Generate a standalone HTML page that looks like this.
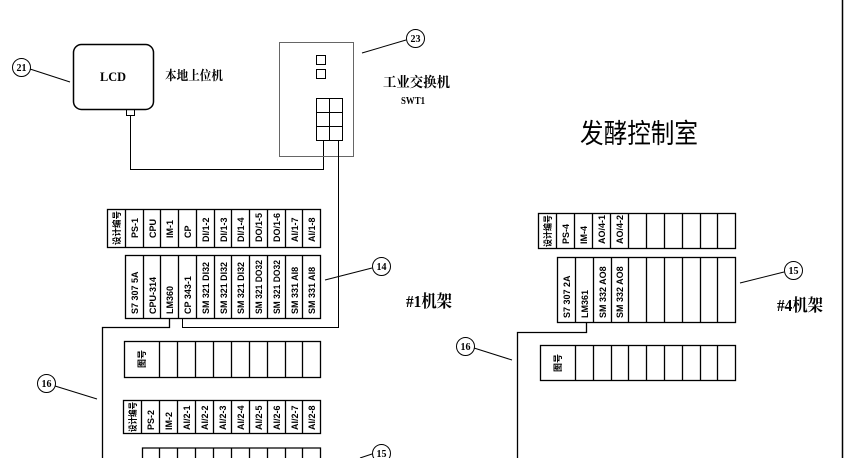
<!DOCTYPE html>
<html><head><meta charset="utf-8"><style>
html,body{margin:0;padding:0;background:#fff}
svg{display:block}
text{font-family:"Liberation Sans","Noto Sans CJK SC",sans-serif;fill:#000}
.s{font-family:"Liberation Serif","Noto Serif CJK SC",serif}
.v{font-size:9px;font-weight:bold}
</style></head><body>
<svg width="844" height="458" viewBox="0 0 844 458" xmlns="http://www.w3.org/2000/svg">
<g fill="none" stroke="#000">
<line x1="842.5" y1="0" x2="842.5" y2="458" stroke-width="1.5"/>
<rect x="73.5" y="44.5" width="80" height="65" rx="8" stroke-width="1.5"/>
<rect x="126.5" y="109.5" width="8" height="6"/>
<polyline points="130.5,115.5 130.5,169.5 323.5,169.5 323.5,140"/>
<rect x="279.5" y="42.5" width="74" height="114" stroke="#666"/>
<rect x="316.5" y="55.5" width="9" height="9"/>
<rect x="316.5" y="69.5" width="9" height="9"/>
<rect x="316.5" y="98.5" width="26" height="42"/>
<line x1="329.5" y1="98.5" x2="329.5" y2="140.5"/>
<line x1="316.5" y1="112.5" x2="342.5" y2="112.5"/>
<line x1="316.5" y1="126.5" x2="342.5" y2="126.5"/>
<polyline points="338.5,140.5 338.5,327.5 182.5,327.5 182.5,318"/>
<polyline points="169.5,318 169.5,327.5 102.5,327.5 102.5,458" stroke-width="1.3"/>
<polyline points="586.5,322 586.5,332.5 517.5,332.5 517.5,458" stroke-width="1.3"/>
<line x1="30" y1="69" x2="70" y2="82"/>
<line x1="406" y1="40" x2="362" y2="53"/>
<line x1="372" y1="268" x2="325" y2="280"/>
<line x1="784" y1="272" x2="740" y2="283"/>
<line x1="55" y1="386" x2="97" y2="399"/>
<line x1="474" y1="348" x2="512" y2="360"/>
<line x1="372" y1="454" x2="360" y2="458"/>
<circle cx="21.5" cy="67.5" r="9"/>
<circle cx="415.5" cy="38.5" r="9"/>
<circle cx="381.5" cy="266.5" r="9"/>
<circle cx="793.5" cy="270.5" r="9"/>
<circle cx="46.5" cy="383.5" r="9"/>
<circle cx="465.5" cy="346.5" r="9"/>
<circle cx="381.5" cy="453.5" r="9"/>
</g>
<g font-size="10" font-weight="bold" text-anchor="middle" class="s">
<text class="s" x="21.5" y="71">21</text><text class="s" x="415.5" y="42">23</text>
<text class="s" x="381.5" y="270">14</text><text class="s" x="793.5" y="274">15</text>
<text class="s" x="46.5" y="387">16</text><text class="s" x="465.5" y="350">16</text>
<text class="s" x="381.5" y="457">15</text>
</g>
<text class="s" x="113" y="81" font-size="13" font-weight="bold" text-anchor="middle" textLength="26" lengthAdjust="spacingAndGlyphs">LCD</text>
<text class="s" x="165" y="80" font-size="13" font-weight="bold" textLength="58" lengthAdjust="spacingAndGlyphs">本地上位机</text>
<text class="s" x="383" y="87" font-size="14" font-weight="bold" textLength="67" lengthAdjust="spacingAndGlyphs">工业交换机</text>
<text class="s" x="401" y="104" font-size="11" font-weight="bold" textLength="24" lengthAdjust="spacingAndGlyphs">SWT1</text>
<text x="580" y="143" font-size="27" textLength="118" lengthAdjust="spacingAndGlyphs">发酵控制室</text>
<text class="s" x="406" y="307" font-size="17" font-weight="bold" textLength="46" lengthAdjust="spacingAndGlyphs">#1机架</text>
<text class="s" x="777" y="311" font-size="17" font-weight="bold" textLength="46" lengthAdjust="spacingAndGlyphs">#4机架</text>
<g fill="none" stroke="#000" stroke-width="1.3">
<rect x="107.5" y="209.5" width="213" height="38"/>
<path d="M125.5 209.5v38M143.5 209.5v38M160.5 209.5v38M178.5 209.5v38M196.5 209.5v38M214.5 209.5v38M231.5 209.5v38M249.5 209.5v38M267.5 209.5v38M285.5 209.5v38M302.5 209.5v38"/>
<rect x="125.5" y="255.5" width="195" height="63"/>
<path d="M143.5 255.5v63M160.5 255.5v63M178.5 255.5v63M196.5 255.5v63M214.5 255.5v63M231.5 255.5v63M249.5 255.5v63M267.5 255.5v63M285.5 255.5v63M302.5 255.5v63"/>
<rect x="124.5" y="341.5" width="196" height="36"/>
<path d="M159.5 341.5v36M177.5 341.5v36M195.5 341.5v36M213.5 341.5v36M231.5 341.5v36M249.5 341.5v36M267.5 341.5v36M285.5 341.5v36M302.5 341.5v36"/>
<rect x="123.5" y="400.5" width="197" height="33"/>
<path d="M141.5 400.5v33M159.5 400.5v33M177.5 400.5v33M195.5 400.5v33M213.5 400.5v33M231.5 400.5v33M249.5 400.5v33M267.5 400.5v33M285.5 400.5v33M302.5 400.5v33"/>
<path d="M142.5 458v-10h178v10M159.5 448v10M177.5 448v10M195.5 448v10M213.5 448v10M231.5 448v10M249.5 448v10M267.5 448v10M285.5 448v10M302.5 448v10"/>
<rect x="538.5" y="213.5" width="197" height="35"/>
<path d="M556.5 213.5v35M574.5 213.5v35M592.5 213.5v35M610.5 213.5v35M628.5 213.5v35M646.5 213.5v35M664.5 213.5v35M682.5 213.5v35M700.5 213.5v35M717.5 213.5v35"/>
<rect x="557.5" y="257.5" width="178" height="65"/>
<path d="M575.5 257.5v65M593.5 257.5v65M611.5 257.5v65M628.5 257.5v65M646.5 257.5v65M664.5 257.5v65M682.5 257.5v65M700.5 257.5v65M717.5 257.5v65"/>
<rect x="540.5" y="345.5" width="195" height="35"/>
<path d="M575.5 345.5v35M593.5 345.5v35M611.5 345.5v35M628.5 345.5v35M646.5 345.5v35M664.5 345.5v35M682.5 345.5v35M700.5 345.5v35M717.5 345.5v35"/>
</g>
<g class="v">
<text transform="translate(120,245) rotate(-90)" textLength="34" lengthAdjust="spacingAndGlyphs">设计编号</text>
<text transform="translate(138,238) rotate(-90)">PS-1</text>
<text transform="translate(156,238) rotate(-90)">CPU</text>
<text transform="translate(173,238) rotate(-90)">IM-1</text>
<text transform="translate(191,238) rotate(-90)">CP</text>
<text transform="translate(209,242) rotate(-90)">DI/1-2</text>
<text transform="translate(227,242) rotate(-90)">DI/1-3</text>
<text transform="translate(244,242) rotate(-90)">DI/1-4</text>
<text transform="translate(262,242) rotate(-90)">DO/1-5</text>
<text transform="translate(280,242) rotate(-90)">DO/1-6</text>
<text transform="translate(298,242) rotate(-90)">AI/1-7</text>
<text transform="translate(315,242) rotate(-90)">AI/1-8</text>
<text transform="translate(138,314) rotate(-90)">S7 307 5A</text>
<text transform="translate(156,314) rotate(-90)">CPU-314</text>
<text transform="translate(173,314) rotate(-90)">LM360</text>
<text transform="translate(191,314) rotate(-90)">CP 343-1</text>
<text transform="translate(209,314) rotate(-90)" textLength="52" lengthAdjust="spacingAndGlyphs">SM 321 DI32</text>
<text transform="translate(227,314) rotate(-90)" textLength="52" lengthAdjust="spacingAndGlyphs">SM 321 DI32</text>
<text transform="translate(244,314) rotate(-90)" textLength="52" lengthAdjust="spacingAndGlyphs">SM 321 DI32</text>
<text transform="translate(262,314) rotate(-90)" textLength="54" lengthAdjust="spacingAndGlyphs">SM 321 DO32</text>
<text transform="translate(280,314) rotate(-90)" textLength="54" lengthAdjust="spacingAndGlyphs">SM 321 DO32</text>
<text transform="translate(298,314) rotate(-90)">SM 331 AI8</text>
<text transform="translate(315,314) rotate(-90)">SM 331 AI8</text>
<text transform="translate(145,368) rotate(-90)">图号</text>
<text transform="translate(136,432) rotate(-90)" textLength="30" lengthAdjust="spacingAndGlyphs">设计编号</text>
<text transform="translate(154,430) rotate(-90)">PS-2</text>
<text transform="translate(172,430) rotate(-90)">IM-2</text>
<text transform="translate(190,430) rotate(-90)">AI/2-1</text>
<text transform="translate(208,430) rotate(-90)">AI/2-2</text>
<text transform="translate(226,430) rotate(-90)">AI/2-3</text>
<text transform="translate(244,430) rotate(-90)">AI/2-4</text>
<text transform="translate(262,430) rotate(-90)">AI/2-5</text>
<text transform="translate(280,430) rotate(-90)">AI/2-6</text>
<text transform="translate(298,430) rotate(-90)">AI/2-7</text>
<text transform="translate(315,430) rotate(-90)">AI/2-8</text>
<text transform="translate(551,247) rotate(-90)" textLength="32" lengthAdjust="spacingAndGlyphs">设计编号</text>
<text transform="translate(569,244) rotate(-90)">PS-4</text>
<text transform="translate(587,244) rotate(-90)">IM-4</text>
<text transform="translate(605,244) rotate(-90)">AO/4-1</text>
<text transform="translate(623,244) rotate(-90)">AO/4-2</text>
<text transform="translate(570,318) rotate(-90)">S7 307 2A</text>
<text transform="translate(588,318) rotate(-90)">LM361</text>
<text transform="translate(606,318) rotate(-90)">SM 332 AO8</text>
<text transform="translate(623,318) rotate(-90)">SM 332 AO8</text>
<text transform="translate(561,372) rotate(-90)">图号</text>
</g>
</svg>
</body></html>
